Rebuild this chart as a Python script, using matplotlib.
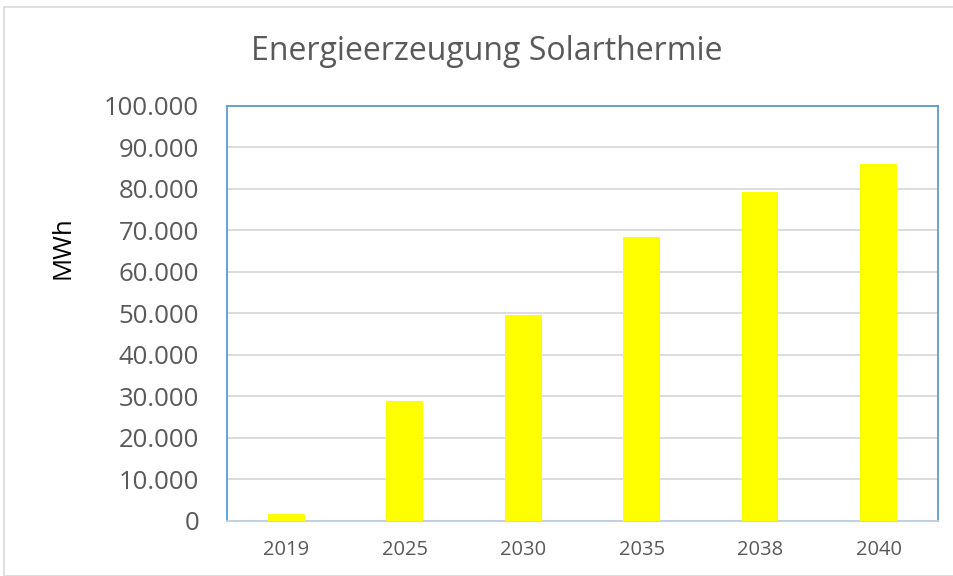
import matplotlib
matplotlib.use("Agg")
import matplotlib.pyplot as plt
from matplotlib.patches import Rectangle
from matplotlib.ticker import FuncFormatter

years = ["2019", "2025", "2030", "2035", "2038", "2040"]
mwh = [1800, 28900, 49600, 68400, 79200, 86000]

plt.rcParams["font.family"] = ["Open Sans", "DejaVu Sans"]
txt = "#595959"
blue = "#5B9BD5"

fig = plt.figure(figsize=(9.54, 5.76), dpi=100)
fig.patches.append(Rectangle((4 / 954, 0), 1, 1 - 7 / 576, transform=fig.transFigure,
                             fill=False, edgecolor="#D9D9D9", linewidth=1.2))
ax = fig.add_axes([0.238, 0.0955, 0.745, 0.7205])

ax.bar(range(len(years)), mwh, width=0.31, color="#FFFF00", zorder=3)
ax.set_xlim(-0.5, len(years) - 0.5)
ax.set_ylim(0, 100000)
ax.set_yticks(range(0, 100001, 10000))
ax.yaxis.set_major_formatter(FuncFormatter(lambda v, p: f"{int(v):,}".replace(",", ".")))
ax.set_xticks(range(len(years)))
ax.set_xticklabels(years)
ax.grid(axis="y", color="#D9D9D9", linewidth=1.3, zorder=0)
ax.tick_params(axis="both", length=0, colors=txt)
ax.tick_params(axis="y", labelsize=18.5, pad=20)
ax.tick_params(axis="x", labelsize=14.5, pad=14)

for s in ["left", "top", "right"]:
    ax.spines[s].set_color(blue)
    ax.spines[s].set_linewidth(1.3)
ax.spines["bottom"].set_color("#BFCFE0")
ax.spines["bottom"].set_linewidth(1.3)

fig.text(63 / 954, 1 - 248 / 576, "MWh", rotation=90, ha="center", va="center",
         fontsize=18.5, color="black")
fig.text(487 / 954, 1 - 52 / 576, "Energieerzeugung Solarthermie", ha="center", va="center",
         fontsize=23, color=txt)

fig.savefig("out.png", dpi=100)
